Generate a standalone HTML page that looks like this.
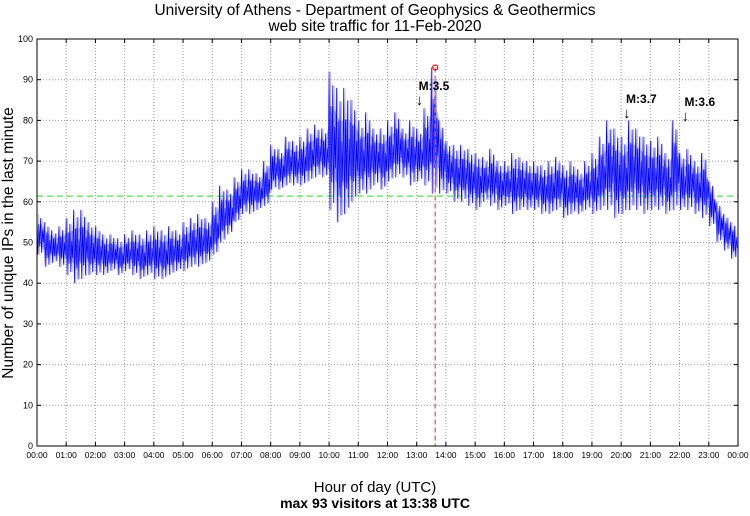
<!DOCTYPE html>
<html><head><meta charset="utf-8"><style>
body{margin:0;background:#fff;width:750px;height:511px;overflow:hidden}
text{font-family:"Liberation Sans",sans-serif}
</style></head><body>
<svg id="chart" width="750" height="511">
<text x="375" y="15" text-anchor="middle" font-size="15.5">University of Athens - Department of Geophysics &amp; Geothermics</text>
<text x="375" y="31" text-anchor="middle" font-size="15.5">web site traffic for 11-Feb-2020</text>
<text x="375" y="492" text-anchor="middle" font-size="15">Hour of day (UTC)</text>
<text x="375" y="508" text-anchor="middle" font-size="14" font-weight="bold">max 93 visitors at 13:38 UTC</text>
<text transform="translate(13,243) rotate(-90)" text-anchor="middle" font-size="15.5">Number of unique IPs in the last minute</text>
<g id="grid"></g><g id="series"></g><g id="annot"></g>
<rect x="37" y="39" width="701" height="407" fill="none" stroke="#000" stroke-width="1"/>
</svg>
<script>
const hourLabels=["00:00","01:00","02:00","03:00","04:00","05:00","06:00","07:00","08:00","09:00","10:00","11:00","12:00","13:00","14:00","15:00","16:00","17:00","18:00","19:00","20:00","21:00","22:00","23:00","00:00"];
const yTicks=[0,10,20,30,40,50,60,70,80,90,100];
const lowValues=[47,44,45,44,42,40,41,42,42,42,43,42,43,42,41,42,41,41,42,43,43,44,44,45,47,50,52,55,57,57,58,59,63,63,64,64,64,65,66,66,58,55,57,60,62,62,64,63,65,66,66,64,65,64,62,62,62,60,60,59,58,60,59,58,59,57,58,58,58,57,57,58,56,57,57,58,57,58,58,56,57,58,58,57,58,58,57,58,58,58,57,56,54,50,48,46];
const highValues=[57,55,53,54,56,58,58,55,54,52,52,51,52,53,52,53,54,53,54,53,55,56,57,56,60,64,63,66,68,68,67,70,74,73,76,75,76,78,79,78,92,88,88,85,80,82,78,78,80,82,78,80,78,83,93,80,75,74,74,73,72,71,73,70,70,72,71,70,70,69,70,71,69,70,68,70,72,76,80,78,76,80,78,76,75,76,72,80,72,73,70,72,65,60,57,55];
const averageValue=61.4;
const maxValue=93, maxMinute=13*60+38;
const quakes=[{label:"M:3.5",minute:13*60+4,y:96},{label:"M:3.7",minute:20*60+10,y:109},{label:"M:3.6",minute:22*60+10,y:112}];
const NS="http://www.w3.org/2000/svg";
const X0=37,X1=738,Y0=446,Y1=39;
const xs=m=>X0+(X1-X0)*m/1440, ys=v=>Y0-(Y0-Y1)*v/100;
function mk(t,a,p){const e=document.createElementNS(NS,t);for(const k in a)e.setAttribute(k,a[k]);p.appendChild(e);return e;}
const grid=document.getElementById('grid');
yTicks.forEach(v=>{const y=ys(v);
 if(v>0&&v<100){const l=mk('line',{x1:X0,x2:X1,y1:y,y2:y,stroke:'#999','stroke-dasharray':'1,2'},grid);
 
 }
 const t=mk('text',{x:33,y:y+3,'text-anchor':'end','font-size':9},grid);t.textContent=v;
 
 
 mk('line',{x1:X0,x2:X0+4,y1:y,y2:y,stroke:'#000'},grid);mk('line',{x1:X1-4,x2:X1,y1:y,y2:y,stroke:'#000'},grid);
});
hourLabels.forEach((s,i)=>{const x=xs(i*60);
 if(i>0&&i<24){const l=mk('line',{x1:x,x2:x,y1:Y1,y2:Y0,stroke:'#999','stroke-dasharray':'1,2'},grid);
 
 }
 const t=mk('text',{x:x,y:458,'text-anchor':'middle','font-size':8.5},grid);t.textContent=s;
 
 
 mk('line',{x1:x,x2:x,y1:Y0,y2:Y0-4,stroke:'#000'},grid);mk('line',{x1:x,x2:x,y1:Y1,y2:Y1+4,stroke:'#000'},grid);
});
const series=document.getElementById('series');
const av=mk('line',{x1:X0,x2:X1,y1:ys(averageValue),y2:ys(averageValue),stroke:'#22dd22','stroke-dasharray':'6,4','stroke-width':1},series);


let topPts=[],botPts=[];
lowValues.forEach((lo,i)=>{const hi=highValues[i],mid=(lo+hi)/2,xm=xs(i*15+7.5);topPts.push(xm+','+ys(hi*0.5+mid*0.5));botPts.unshift(xm+','+ys(lo*0.5+mid*0.5));});
const band=mk('polygon',{points:topPts.concat(botPts).join(' '),fill:'#5555ff',opacity:0.55},series);


const pat=[1,0,0.75,0.2,0.9,0.05,0.6,0.3];
let pts=[];
lowValues.forEach((lo,i)=>{const hi=highValues[i];for(let k=0;k<pat.length;k++){pts.push(xs(i*15+k*15/pat.length)+','+ys(lo+(hi-lo)*pat[k]));}});
const pl2=mk('polyline',{points:pts.join(' '),fill:'none',stroke:'#9999ff','stroke-width':0.6,transform:'translate(1.3,0)'},series);


const pl=mk('polyline',{points:pts.join(' '),fill:'none',stroke:'#0000ff','stroke-width':0.7},series);


const an=document.getElementById('annot');
const mx=xs(maxMinute);
const vl=mk('line',{x1:mx,x2:mx,y1:ys(maxValue),y2:Y0,stroke:'#ff5555','stroke-dasharray':'5,3','stroke-width':1.3},an);


const mc=mk('circle',{cx:mx,cy:ys(maxValue),r:2.5,fill:'none',stroke:'#ff0000','stroke-width':1.2},an);


quakes.forEach(q=>{const x=xs(q.minute);
 const t=mk('text',{x:x,y:q.y-6,'font-size':12,'font-weight':'bold'},an);t.textContent=q.label;
 
 
 const a=mk('text',{x:x-3,y:q.y+9,'font-size':15},an);a.textContent='↓';
 
 
});
</script>
</body></html>
